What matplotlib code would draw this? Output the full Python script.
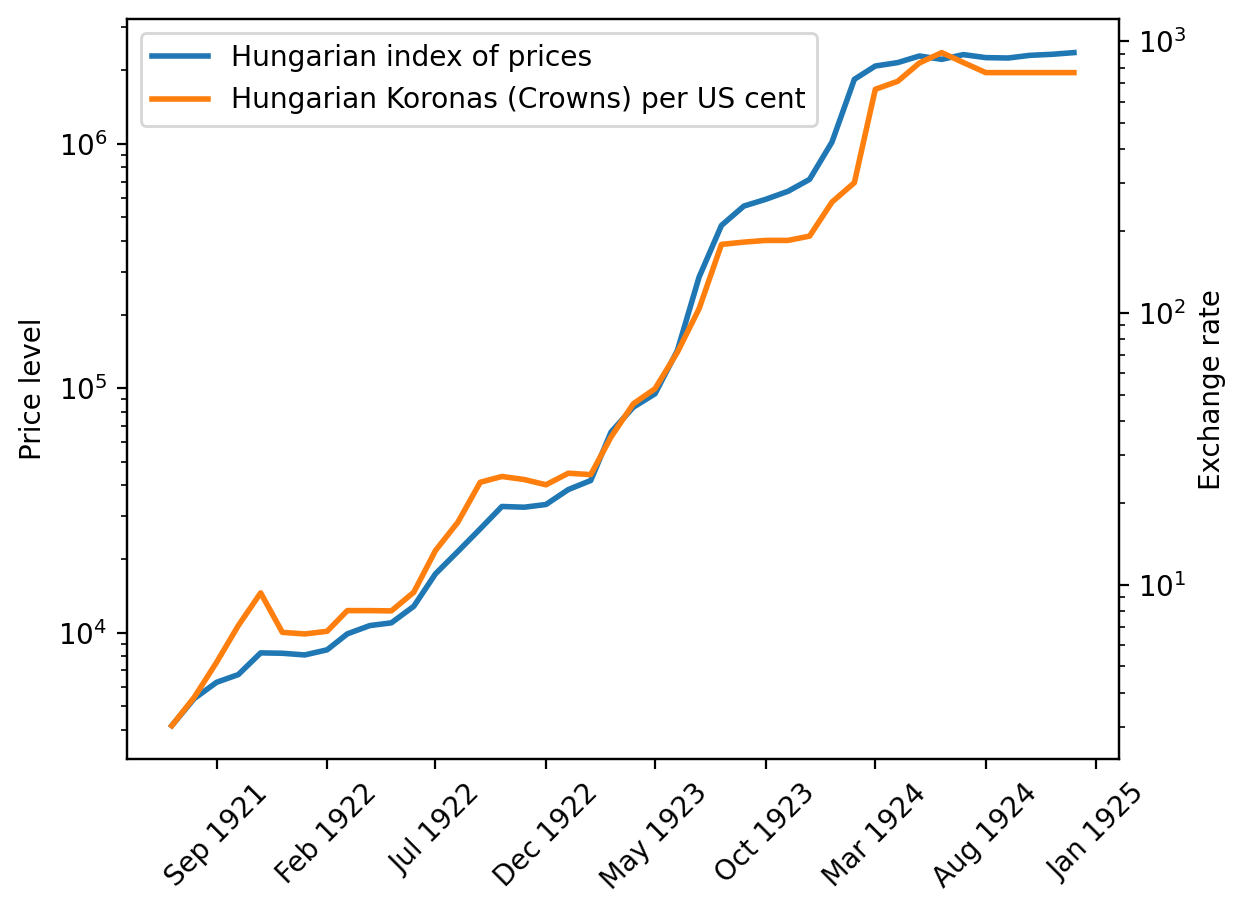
import matplotlib
matplotlib.use("Agg")
import matplotlib.pyplot as plt
import matplotlib.dates as mdates
import pandas as pd

# monthly observations, Jul 1921 - Dec 1924
dates = pd.date_range("1921-07-01", periods=42, freq="MS")

price_index = [4162, 5370, 6260, 6730, 8260, 8230, 8100, 8500, 9880, 10680,
               10960, 12810, 17390, 21460, 26580, 32800, 32580, 33420, 38480, 41900,
               66040, 83600, 94850, 142700, 284700, 463400, 555900, 592100, 638700, 715000,
               1016000, 1835000, 2080000, 2148000, 2286000, 2215000, 2316000, 2251000,
               2243000, 2300000, 2323000, 2360000]

exchange_rate = [3.025, 3.845, 5.175, 7.06, 9.32, 6.67, 6.58, 6.73, 8.02, 8.02,
                 8.0, 9.37, 13.34, 16.96, 23.8, 25.0, 24.36, 23.3, 25.7, 25.4,
                 34.9, 46.3, 52.6, 71.7, 103.6, 178.8, 182.3, 184.9, 184.9, 191.8,
                 255.9, 301.7, 665.8, 712.3, 832, 908.6, 835, 766.9, 766.9, 766.9,
                 766.9, 766.9]

tick_dates = pd.date_range("1921-09-01", "1925-01-01", freq="5MS")

fig, ax = plt.subplots(figsize=(6.23, 4.58), dpi=200)
fig.subplots_adjust(left=0.1017, right=0.8981, bottom=0.1711, top=0.9793)

l1, = ax.plot(dates, price_index, color="C0", lw=2, label="Hungarian index of prices")
ax.set_yscale("log")
ax.set_ylabel("Price level")

ax2 = ax.twinx()
l2, = ax2.plot(dates, exchange_rate, color="C1", lw=2,
               label="Hungarian Koronas (Crowns) per US cent")
ax2.set_yscale("log")
ax2.set_ylabel("Exchange rate")

ax.set_xticks(tick_dates)
ax.xaxis.set_major_formatter(mdates.DateFormatter("%b %Y"))
for lbl in ax.get_xticklabels():
    lbl.set_rotation(45)

ax2.legend(handles=[l1, l2], loc="upper left", fontsize=10.15)

fig.savefig("out.png", dpi=200)
